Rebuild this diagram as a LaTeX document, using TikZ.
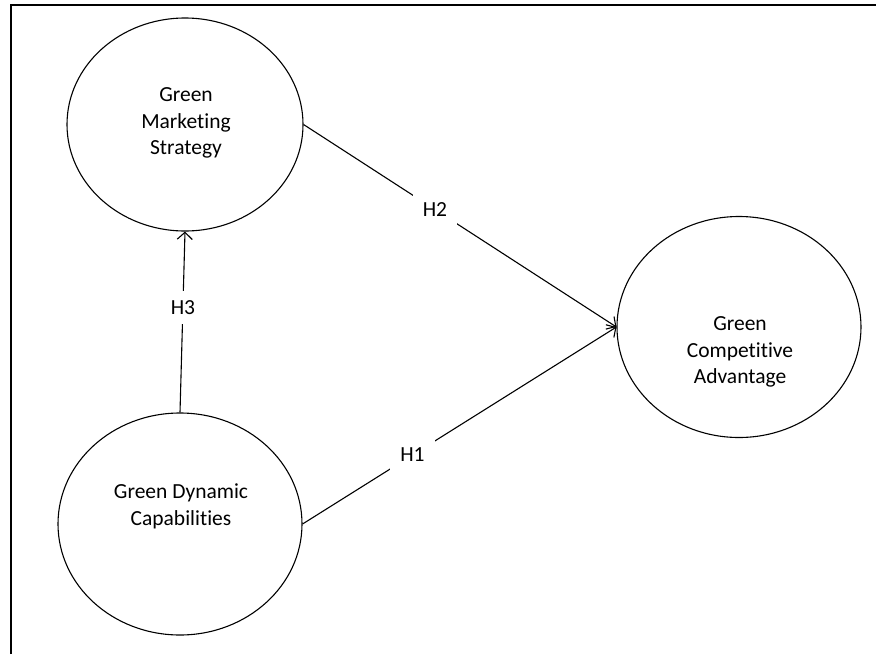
\documentclass[tikz,border=0pt]{standalone}
\usepackage{fontspec}
\setmainfont{Carlito}[Ligatures={NoCommon,NoRequired,NoContextual}]
\usetikzlibrary{shapes,arrows.meta,positioning}

\begin{document}
\begin{tikzpicture}[
    x=1pt, y=-1pt,
    construct/.style={ellipse, draw, line width=1.1pt, inner sep=0pt},
    txt/.style={align=center, font=\fontsize{21.5}{26.7}\selectfont},
    hyp/.style={fill=white, inner xsep=10pt, inner ysep=9pt, font=\fontsize{21.5}{26.7}\selectfont},
    arrow/.style={->, line width=1.1pt, >={Straight Barb[length=7pt,width=15pt]}}
]
\useasboundingbox (0,0) rectangle (876,654);

% === FRAME ===
\draw[line width=1.3pt] (11,654) -- (11,5) -- (876,5);

% === CONSTRUCTS ===
\node[construct, minimum width=236pt, minimum height=213pt] (gms) at (185,124.5) {};
\node[construct, minimum width=244pt, minimum height=222pt] (gdc) at (180,524) {};
\node[construct, minimum width=244pt, minimum height=221pt] (gca) at (739,327) {};

\node[txt] (gmsText) at (186,123) {Green\\Marketing\\Strategy};
\node[txt] (gdcText) at (181,506) {Green Dynamic\\Capabilities};
\node[txt] (gcaText) at (740,352) {Green\\Competitive\\Advantage};

% === PATHS ===
\draw[arrow] (gdc.north) -- node[hyp, pos=0.58] (h3) {H3} (gms.south);
\draw[arrow] (gms.east) -- node[hyp, pos=0.42] (h2) {H2} (gca.west);
\draw[arrow] (gdc.east) -- node[hyp, pos=0.35] (h1) {H1} (gca.west);

\end{tikzpicture}
\end{document}
